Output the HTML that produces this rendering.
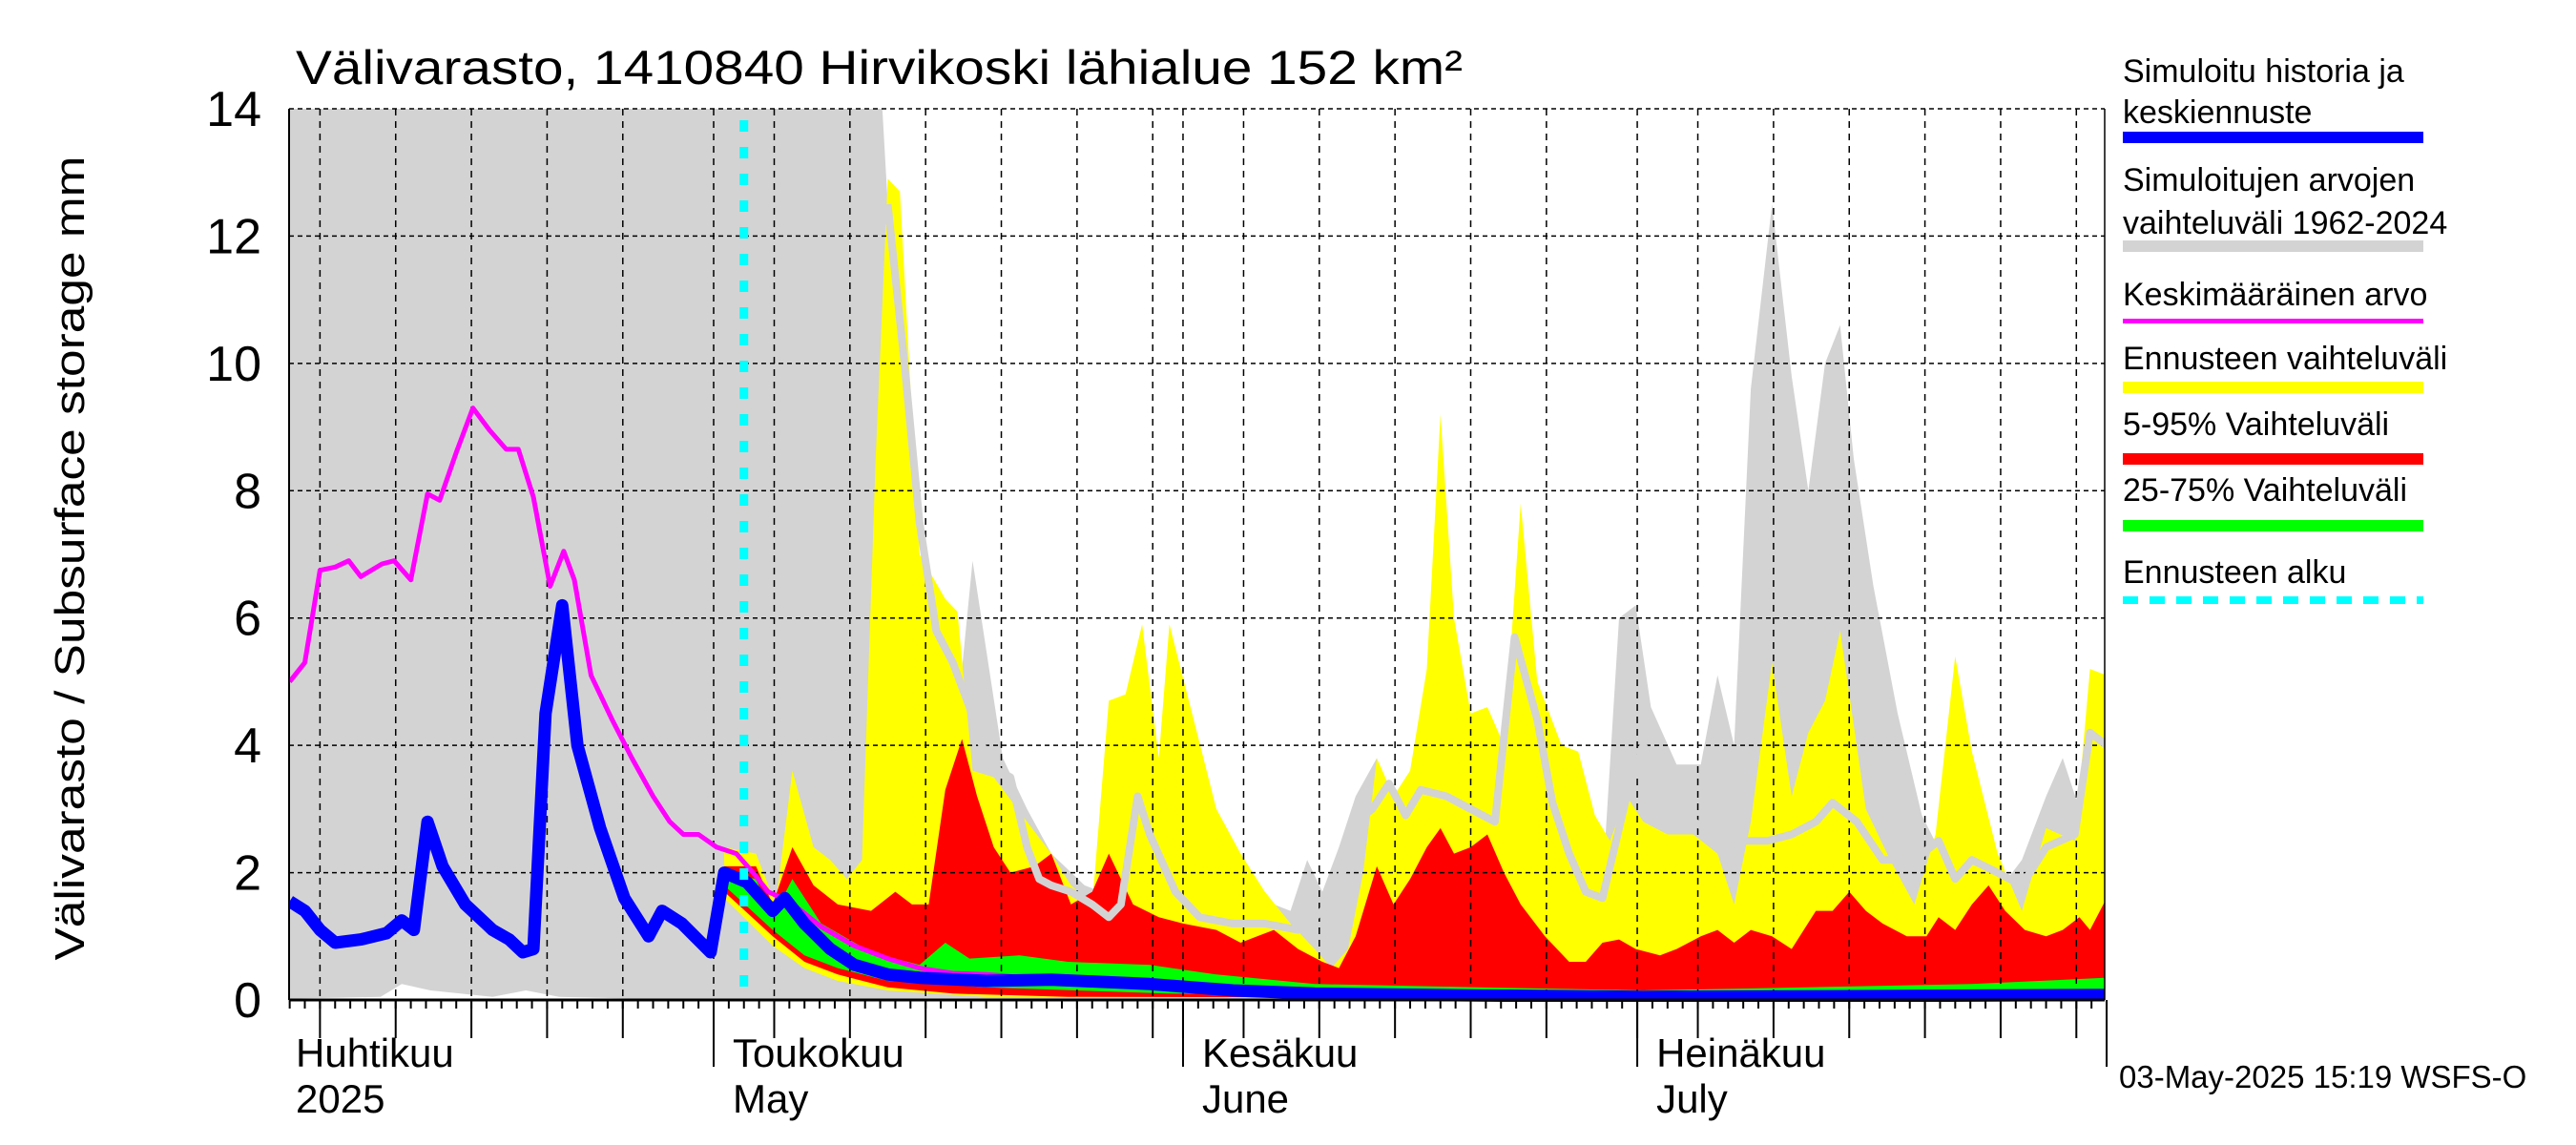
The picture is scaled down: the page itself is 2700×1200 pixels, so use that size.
<!DOCTYPE html>
<html><head><meta charset="utf-8"><style>
html,body{margin:0;padding:0;background:#fff;}
svg{display:block;font-family:"Liberation Sans",sans-serif;}
</style></head><body>
<svg id="chart" width="2700" height="1200" viewBox="0 0 2700 1200">
<g id="fills"></g>
<g id="grid"></g>
<g id="lines"></g>
<g id="axes"></g>
<text x="310" y="88" font-size="50" textLength="1223" lengthAdjust="spacingAndGlyphs">Välivarasto, 1410840 Hirvikoski lähialue 152 km²</text>
<text transform="translate(88,585) rotate(-90)" text-anchor="middle" font-size="44" textLength="843" lengthAdjust="spacingAndGlyphs">Välivarasto / Subsurface storage  mm</text>
<g font-size="34">
<text x="2225" y="86">Simuloitu historia ja</text>
<text x="2225" y="129">keskiennuste</text>
<rect x="2225" y="138" width="315" height="12" fill="#0000ff"/>
<text x="2225" y="200">Simuloitujen arvojen</text>
<text x="2225" y="245">vaihteluväli 1962-2024</text>
<rect x="2225" y="252" width="315" height="12" fill="#d3d3d3"/>
<text x="2225" y="320">Keskimääräinen arvo</text>
<rect x="2225" y="334" width="315" height="5" fill="#ff00ff"/>
<text x="2225" y="387">Ennusteen vaihteluväli</text>
<rect x="2225" y="400" width="315" height="12" fill="#ffff00"/>
<text x="2225" y="456">5-95% Vaihteluväli</text>
<rect x="2225" y="475" width="315" height="12" fill="#ff0000"/>
<text x="2225" y="525">25-75% Vaihteluväli</text>
<rect x="2225" y="545" width="315" height="12" fill="#00ff00"/>
<text x="2225" y="611">Ennusteen alku</text>
<line x1="2225" y1="629" x2="2540" y2="629" stroke="#00ffff" stroke-width="8" stroke-dasharray="16,12"/>
</g>
<text x="2221" y="1140" font-size="33">03-May-2025 15:19 WSFS-O</text>
</svg>
<script>
// day offsets relative to 1 May 2025
const greyUpDays=[-28,10.9,11.5,12.3,13.6,15.3,16.4,17.1,18,19.1,20.7,22.3,24.5,26.7,28.8,31,33.2,35.3,37,38.1,39.2,40.2,41.3,42.4,43.8,44.9,46,47.3,48.4,50,51.6,53.3,54.9,57.1,58.7,59.8,60.9,61.9,63.6,65.2,66.3,67.4,68.5,69.9,71.2,72.3,73.4,74.4,75.3,76.6,78.2,79.8,81.5,83.1,84.8,86.4,88,89.1,90.2,90.9,92];
const greyUpVals=[15,15,12.5,10,7,5,5.2,6.9,5.5,3.8,3.0,2.3,1.8,1.6,1.5,1.4,1.3,1.3,1.5,1.4,2.2,1.7,2.4,3.2,3.8,3.0,3.5,3.2,3.0,2.8,3.8,5.4,4.0,2.4,1.8,6.0,6.2,4.6,3.7,3.7,5.1,4.0,9.6,12.5,9.8,8.0,10.0,10.6,8.5,6.5,4.5,2.9,2.1,1.5,1.7,2.2,3.2,3.8,3.0,4.2,4.0];
const greyLoDays=[-28,-22,-20.6,-18.7,-14.6,-12.4,-10.2,-5,0,92];
const greyLoVals=[0.02,0.05,0.25,0.15,0.05,0.15,0.05,0.02,0,0];
const yelUpDays=[0.7,2.8,4.1,5.2,6.6,7.7,8.8,9.8,10.7,11.5,12.3,13.6,15.3,16.1,17.1,18.5,20.7,22.3,23.6,25,26.1,27.2,28.3,29.4,30.1,31.6,33.2,34.8,36.4,38.1,39.7,40.8,41.9,42.9,43.8,44.9,46,47.1,48,48.9,50,51.1,52.2,53.3,54.4,56,57.1,58.2,59.2,60.3,61.4,63,64.7,66.3,67.4,68.5,69.9,71.2,72.3,73.4,74.4,76.1,77.7,79.3,80.7,82,83.1,84.8,86.4,88,89.9,90.9,92];
const yelUpVals=[2.4,2.3,1.5,3.6,2.4,2.2,1.9,2.2,8.5,12.9,12.7,7.0,6.3,6.1,3.6,3.5,2.8,2.3,1.8,1.5,4.7,4.8,5.9,3.8,5.9,4.5,3.0,2.3,1.7,1.2,0.8,0.5,0.8,2.0,3.8,3.2,3.6,5.2,9.2,6.0,4.5,4.6,4.0,7.8,5.0,4.0,3.9,2.9,2.5,3.2,2.8,2.6,2.6,2.3,1.5,2.8,5.3,3.2,4.2,4.7,5.8,3.0,2.2,1.5,2.6,5.4,3.9,2.3,1.4,2.7,2.5,5.2,5.1];
const yelLoDays=[0.7,3.9,6,8.2,11.5,18,92];
const yelLoVals=[1.6,0.85,0.5,0.3,0.15,0.05,0];
const redUpDays=[0.7,2.8,3.9,5.2,6.6,8.2,10.4,12,13.1,14.2,15.3,16.4,17.4,18.5,19.6,21.2,22.3,23.6,25,26.1,27.7,29.4,31,33.2,34.8,35.9,37,38.6,40.2,41.3,42.4,43.8,44.9,46,47.1,48,48.9,50,51.1,52.2,53.3,54.9,56.5,57.6,58.7,59.8,60.9,62.5,63.6,65.2,66.3,67.4,68.5,69.9,71.2,72.8,73.9,75,76.1,77.2,78.8,80.1,80.9,82,83.1,84.2,85.3,86.6,88,89.1,90.2,90.9,92];
const redUpVals=[2.1,2.1,1.5,2.4,1.8,1.5,1.4,1.7,1.5,1.5,3.3,4.1,3.2,2.4,2.0,2.1,2.3,1.5,1.7,2.3,1.5,1.3,1.2,1.1,0.9,1.0,1.1,0.8,0.6,0.5,1.0,2.1,1.5,1.9,2.4,2.7,2.3,2.4,2.6,2.0,1.5,1.0,0.6,0.6,0.9,0.95,0.8,0.7,0.8,1.0,1.1,0.9,1.1,1.0,0.8,1.4,1.4,1.7,1.4,1.2,1.0,1.0,1.3,1.1,1.5,1.8,1.4,1.1,1.0,1.1,1.3,1.1,1.6];
const redLoDays=[0.7,3.9,6,8.2,11.5,15.8,23.4,92];
const redLoVals=[1.7,1.0,0.6,0.4,0.2,0.1,0.05,0.02];
const grnUpDays=[0.7,2.8,3.9,5.2,7.1,10.4,13.6,15.3,16.9,20.2,23.4,28.8,33.2,39.7,50.5,61.4,72.3,83.1,92];
const grnUpVals=[2.0,1.9,1.3,1.9,1.2,0.75,0.55,0.9,0.65,0.7,0.6,0.55,0.4,0.25,0.2,0.15,0.2,0.25,0.35];
const grnLoDays=[0.7,3.9,6,8.2,11.5,18,30,92];
const grnLoVals=[1.8,1.1,0.7,0.5,0.3,0.2,0.1,0.05];
const greyLineDays=[11.5,12.6,13.6,14.7,15.8,16.9,18,18.8,19.6,20.7,21.5,22.3,23.6,25,26.1,26.9,28,28.8,30.5,32.1,34.3,36.4,38.6,40.2,41.3,42.4,43.5,44.6,45.7,46.7,48.4,50,51.6,52.9,54.4,55.4,56.5,57.6,58.7,60.3,61.4,63,64.7,66.3,67.9,69.6,71.2,72.8,73.9,75.5,77.2,79.3,80.9,82,83.1,84.8,86.4,88,89.9,90.9,92];
const greyLineVals=[12.5,10,7.5,5.8,5.3,4.6,3.8,3.6,3.5,2.4,1.9,1.8,1.7,1.5,1.3,1.5,3.2,2.6,1.7,1.3,1.2,1.2,1.1,1.4,1.8,2.8,3.0,3.4,2.9,3.3,3.2,3.0,2.8,5.7,4.4,3.1,2.3,1.7,1.6,3.2,4.0,3.0,2.8,2.6,2.5,2.5,2.6,2.8,3.1,2.8,2.2,2.2,2.5,1.9,2.2,2.0,1.8,2.4,2.6,4.2,4.0];
const meanDays=[-28,-27,-26,-25,-24.1,-23.3,-21.9,-21.1,-20,-18.9,-18.1,-17,-15.9,-14.8,-13.7,-12.9,-11.9,-10.8,-9.9,-9.2,-8.1,-6.7,-5.4,-4,-2.9,-2,-1,0.2,1.5,2.6,3.6,5,7.1,9.3,11.5,13.6,15.8,18,23.4,28.8,39.7,61.4,92];
const meanVals=[5.0,5.3,6.75,6.8,6.9,6.65,6.85,6.9,6.6,7.95,7.85,8.6,9.3,8.95,8.65,8.65,7.9,6.5,7.05,6.6,5.1,4.4,3.8,3.2,2.8,2.6,2.6,2.4,2.3,2.0,1.7,1.55,1.15,0.85,0.65,0.5,0.42,0.4,0.3,0.2,0.12,0.05,0.1];
const blueDays=[-28,-27,-26,-25,-23.3,-21.6,-20.6,-19.8,-18.9,-17.9,-16.4,-14.6,-13.5,-12.6,-11.9,-11.1,-10,-9,-7.5,-5.9,-4.3,-3.4,-2.1,-0.2,0.7,2.2,3.9,4.7,6,7.7,9.3,11.5,13.6,18,22.3,28.8,34.3,39.7,50.5,61.4,75,92];
const blueVals=[1.55,1.4,1.1,0.9,0.95,1.05,1.25,1.1,2.8,2.1,1.5,1.1,0.95,0.75,0.8,4.5,6.2,4.0,2.7,1.6,1.0,1.4,1.2,0.75,2.0,1.85,1.4,1.6,1.2,0.8,0.55,0.4,0.35,0.3,0.32,0.25,0.15,0.1,0.07,0.05,0.06,0.08];
const forecastStartDay=2;
const yTicks=[0,2,4,6,8,10,12,14];
const monthStarts=[-30,0,31,61,92];
const monthFi=['Huhtikuu','Toukokuu','Kesäkuu','Heinäkuu'];
const monthEn=['2025','May','June','July'];

const NS='http://www.w3.org/2000/svg';
const L=303,R=2206,T=114,B=1048,D0=-28.04,D1=92;
const X=d=>748+d*15.87;
const Y=v=>B-v*(B-T)/14;
function mk(tag,attrs,parent){const e=document.createElementNS(NS,tag);for(const k in attrs)e.setAttribute(k,attrs[k]);parent.appendChild(e);return e;}
const svg=document.getElementById('chart');
const defs=mk('defs',{},svg);
const cp=mk('clipPath',{id:'plotclip'},defs);
mk('rect',{x:L,y:T,width:R-L,height:B-T+2},cp);
const fills=document.getElementById('fills'),grid=document.getElementById('grid'),lines=document.getElementById('lines'),axes=document.getElementById('axes');
fills.setAttribute('clip-path','url(#plotclip)');lines.setAttribute('clip-path','url(#plotclip)');
function band(ud,uv,ld,lv,color,name){
  let p=ud.map((d,i)=>X(Math.max(d,D0)).toFixed(1)+','+Y(uv[i]).toFixed(1));
  for(let i=ld.length-1;i>=0;i--)p.push(X(Math.max(ld[i],D0)).toFixed(1)+','+Y(lv[i]).toFixed(1));
  const e=mk('polygon',{points:p.join(' '),fill:color},fills);
  
  
}
function line(ds,vs,color,w,name){
  const p=ds.map((d,i)=>X(Math.max(d,D0)).toFixed(1)+','+Y(vs[i]).toFixed(1)).join(' ');
  const e=mk('polyline',{points:p,fill:'none',stroke:color,'stroke-width':w,'stroke-linejoin':'round'},lines);
  
  
}
band(greyUpDays,greyUpVals,greyLoDays,greyLoVals,'#d3d3d3','historical-range-band');
band(yelUpDays,yelUpVals,yelLoDays,yelLoVals,'#ffff00','forecast-range-band');
band(redUpDays,redUpVals,redLoDays,redLoVals,'#ff0000','band-5-95');
band(grnUpDays,grnUpVals,grnLoDays,grnLoVals,'#00ff00','band-25-75');
yTicks.forEach(v=>{
  const g=mk('line',{x1:L,x2:R,y1:Y(v),y2:Y(v),stroke:'#000','stroke-width':1.5,'stroke-dasharray':'5,4'},grid);
  
  
  const t=mk('text',{x:274,y:Y(v)+18,'text-anchor':'end','font-size':52},axes);t.textContent=v;
  
  
});
const monthLens=[30,31,30,31];
const gridDays=[];
for(let m=0;m<4;m++){const s=monthStarts[m];for(let k=5;k<=30;k+=5){if(k<monthLens[m])gridDays.push(s+k-1);}gridDays.push(monthStarts[m+1]);}
gridDays.forEach(d=>{if(d<=D0||d>=D1)return;
  const g=mk('line',{x1:X(d),x2:X(d),y1:T,y2:B,stroke:'#000','stroke-width':1.5,'stroke-dasharray':'7,6'},grid);
  
  
  const t=mk('line',{x1:X(d),x2:X(d),y1:B,y2:B+40,stroke:'#000','stroke-width':2},axes);
  
  
});
for(let d=-28;d<=92;d++){const t=mk('line',{x1:X(d),x2:X(d),y1:B,y2:B+9,stroke:'#000','stroke-width':2},axes);
  
  }
monthStarts.forEach((d,i)=>{if(d<D0)return;
  const t=mk('line',{x1:X(d),x2:X(d),y1:B,y2:1118,stroke:'#000','stroke-width':2},axes);
  
  });
monthFi.forEach((n,i)=>{const x=i===0?310:X(monthStarts[i])+20;
  const a=mk('text',{x:x,y:1118,'font-size':42},axes);a.textContent=n;
  
  
  const b=mk('text',{x:x,y:1166,'font-size':42},axes);b.textContent=monthEn[i];
  
  });
const la=mk('line',{x1:L,x2:L,y1:T,y2:B,stroke:'#000','stroke-width':2},axes);


const lb=mk('line',{x1:L,x2:R,y1:B,y2:B,stroke:'#000','stroke-width':3},axes);


const lr=mk('line',{x1:R,x2:R,y1:T,y2:B,stroke:'#000','stroke-width':1.5},axes);


line(greyLineDays,greyLineVals,'#d3d3d3',8,'simulated-member-line');
line(meanDays,meanVals,'#ff00ff',5,'mean-line');
line(blueDays,blueVals,'#0000ff',13,'simulated-median-line');
const cy=mk('line',{x1:X(forecastStartDay),x2:X(forecastStartDay),y1:T+12,y2:B-6,stroke:'#00ffff','stroke-width':9,'stroke-dasharray':'12,16'},lines);


</script>
</body></html>
